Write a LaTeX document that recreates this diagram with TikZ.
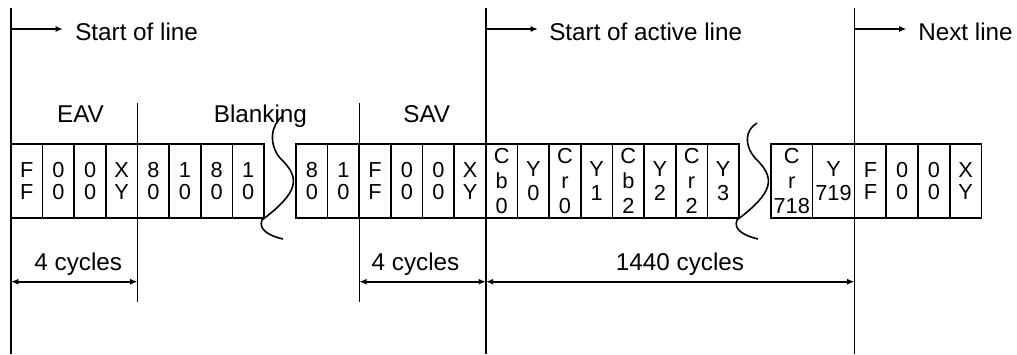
\documentclass[tikz,border=0pt]{standalone}
\usepackage{fontspec}
\setmainfont{Liberation Sans}
\usetikzlibrary{arrows.meta}
\begin{document}
\begin{tikzpicture}[x=0.75pt,y=-0.75pt,
  cell/.style={draw, line width=1.2pt, minimum height=55.5pt, minimum width=23.73pt, inner sep=0pt, align=center, font=\fontsize{16.3}{16.2}\selectfont},
  ycell/.style={cell, font=\fontsize{16.3}{18.5}\selectfont},
  tri/.style={cell, font=\fontsize{16.3}{18.75}\selectfont},
  lbl/.style={font=\fontsize{18.2}{20}\selectfont, inner sep=0pt, anchor=base},
  vline/.style={line width=1.2pt},
  arr/.style={line width=1.2pt, -{Latex[length=5.5pt,width=4.5pt]}},
  dim/.style={line width=1.2pt, {Latex[length=5.5pt,width=4.5pt]}-{Latex[length=5.5pt,width=4.5pt]}},
  squig/.style={line width=1.2pt}
]
\useasboundingbox (0,0) rectangle (1017,354);

% ---- group 1 (EAV + blanking)
\node[cell] (a1) at (26.8,181) {F\\F};
\node[cell] (a2) at (58.4,181) {0\\0};
\node[cell] (a3) at (90.1,181) {0\\0};
\node[cell] (a4) at (121.7,181) {X\\Y};
\node[cell] (a5) at (153.3,181) {8\\0};
\node[cell] (a6) at (185.0,181) {1\\0};
\node[cell] (a7) at (216.6,181) {8\\0};
\node[cell] (a8) at (248.2,181) {1\\0};

% ---- group 2 (blanking + SAV + active)
\node[cell] (b1) at (311.8,181) {8\\0};
\node[cell] (b2) at (343.5,181) {1\\0};
\node[cell] (b3) at (375.1,181) {F\\F};
\node[cell] (b4) at (406.8,181) {0\\0};
\node[cell] (b5) at (438.4,181) {0\\0};
\node[cell] (b6) at (470.1,181) {X\\Y};
\node[tri]  (b7) at (501.7,181) {C\\b\\0};
\node[ycell] (b8) at (533.4,181) {Y\\0};
\node[tri]  (b9) at (565.0,181) {C\\r\\0};
\node[ycell] (b10) at (596.6,181) {Y\\1};
\node[tri]  (b11) at (628.3,181) {C\\b\\2};
\node[ycell] (b12) at (659.9,181) {Y\\2};
\node[tri]  (b13) at (691.6,181) {C\\r\\2};
\node[ycell] (b14) at (723.2,181) {Y\\3};

% ---- group 3
\node[tri, minimum width=31.1pt] (c1) at (791.75,181) {C\\r\\718};
\node[ycell, minimum width=31.5pt] (c2) at (833.5,181) {Y\\719};
\node[cell, minimum width=23.8pt] (c3) at (870.4,181) {F\\F};
\node[cell, minimum width=23.8pt] (c4) at (902.1,181) {0\\0};
\node[cell, minimum width=23.8pt] (c5) at (933.9,181) {0\\0};
\node[cell, minimum width=23.8pt] (c6) at (965.6,181) {X\\Y};

% ---- vertical reference lines
\coordinate (L0t) at (11,8);      \coordinate (L0b) at (11,354);
\coordinate (L1t) at (137.5,103); \coordinate (L1b) at (137.5,302);
\coordinate (L2t) at (359.3,103); \coordinate (L2b) at (359.3,302);
\coordinate (L3t) at (485.9,8);   \coordinate (L3b) at (485.9,354);
\coordinate (L4t) at (854.5,8);   \coordinate (L4b) at (854.5,354);
\draw[vline] (L0t) -- (L0b);
\draw[vline] (L1t) -- (L1b);
\draw[vline] (L2t) -- (L2b);
\draw[vline] (L3t) -- (L3b);
\draw[vline] (L4t) -- (L4b);

% ---- top markers
\coordinate (s0) at (11,29);    \coordinate (e0) at (63,29);
\coordinate (s1) at (485.9,29); \coordinate (e1) at (538,29);
\coordinate (s2) at (854.5,29); \coordinate (e2) at (906.5,29);
\draw[arr] (s0) -- (e0);
\draw[arr] (s1) -- (e1);
\draw[arr] (s2) -- (e2);
\node[lbl, anchor=base west] (t0) at (75,40.5) {Start of line};
\node[lbl, anchor=base west] (t1) at (549,40.5) {Start of active line};
\node[lbl, anchor=base west] (t2) at (918,40.5) {Next line};

% ---- header labels
\node[lbl] (eav) at (80.5,122) {EAV};
\node[lbl] (blk) at (260.4,122) {Blanking};
\node[lbl] (sav) at (426.7,122) {SAV};

% ---- dimension arrows
\coordinate (d0) at (11,281.7);
\coordinate (d1) at (137.5,281.7);
\coordinate (d2) at (359.3,281.7);
\coordinate (d3) at (485.9,281.7);
\coordinate (d4) at (854.5,281.7);
\draw[dim] (d0) -- (d1);
\draw[dim] (d2) -- (d3);
\draw[dim] (d3) -- (d4);
\node[lbl] (n0) at (78.3,270) {4 cycles};
\node[lbl] (n1) at (415.5,270) {4 cycles};
\node[lbl] (n2) at (680,270) {1440 cycles};

% ---- break squiggles
\draw[squig] (283,116) .. controls (270,125) and (269,145) .. (280,158)
  .. controls (301,178) and (299,192) .. (262,220)
  .. controls (258,230) and (270,236) .. (283,239);
\draw[squig] (757,123) .. controls (745,130) and (744,145) .. (755,158)
  .. controls (776,178) and (774,192) .. (737,220)
  .. controls (733,230) and (745,236) .. (758,239);
\end{tikzpicture}
\end{document}
